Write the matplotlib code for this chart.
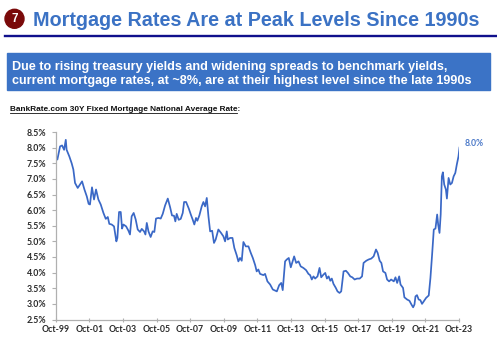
import matplotlib
matplotlib.use("Agg")
import matplotlib.pyplot as plt
from matplotlib.patches import Circle, Rectangle
from matplotlib.lines import Line2D

# 30Y fixed mortgage national average rate (%), sampled along the series
dates = [
    1999.75, 1999.85, 2000.01, 2000.13, 2000.25, 2000.35, 2000.40, 2000.56, 2000.70, 2000.80,
    2000.90, 2001.06, 2001.20, 2001.32, 2001.46, 2001.60, 2001.71, 2001.79, 2001.91, 2002.03,
    2002.15, 2002.29, 2002.43, 2002.59, 2002.73, 2002.85, 2002.94, 2003.08, 2003.22, 2003.36,
    2003.42, 2003.52, 2003.62, 2003.70, 2003.78, 2003.94, 2004.08, 2004.17, 2004.27, 2004.39,
    2004.51, 2004.63, 2004.77, 2004.87, 2005.01, 2005.09, 2005.17, 2005.27, 2005.40, 2005.52,
    2005.62, 2005.72, 2005.86, 2006.00, 2006.12, 2006.26, 2006.42, 2006.56, 2006.67, 2006.79,
    2006.87, 2006.95, 2007.07, 2007.19, 2007.31, 2007.39, 2007.51, 2007.67, 2007.79, 2007.90,
    2008.00, 2008.10, 2008.18, 2008.30, 2008.44, 2008.54, 2008.64, 2008.74, 2008.84, 2008.94,
    2009.06, 2009.17, 2009.27, 2009.43, 2009.59, 2009.73, 2009.83, 2009.93, 2009.99, 2010.13,
    2010.27, 2010.38, 2010.52, 2010.62, 2010.72, 2010.82, 2010.92, 2011.06, 2011.22, 2011.36,
    2011.48, 2011.62, 2011.71, 2011.81, 2011.91, 2012.11, 2012.21, 2012.35, 2012.51, 2012.67,
    2012.91, 2013.05, 2013.17, 2013.26, 2013.40, 2013.50, 2013.62, 2013.74, 2013.86, 2013.94,
    2014.06, 2014.20, 2014.33, 2014.49, 2014.65, 2014.79, 2014.89, 2014.99, 2015.09, 2015.19,
    2015.33, 2015.45, 2015.55, 2015.69, 2015.79, 2015.89, 2015.99, 2016.09, 2016.18, 2016.28,
    2016.42, 2016.52, 2016.64, 2016.74, 2016.88, 2017.02, 2017.14, 2017.28, 2017.40, 2017.54,
    2017.68, 2017.84, 2017.98, 2018.07, 2018.23, 2018.37, 2018.53, 2018.67, 2018.81, 2018.91,
    2019.03, 2019.13, 2019.23, 2019.37, 2019.47, 2019.59, 2019.71, 2019.87, 2019.97, 2020.07,
    2020.19, 2020.27, 2020.42, 2020.50, 2020.66, 2020.80, 2020.92, 2021.02, 2021.10, 2021.16,
    2021.25, 2021.35, 2021.45, 2021.55, 2021.65, 2021.79, 2021.95, 2022.05, 2022.15, 2022.25,
    2022.35, 2022.45, 2022.51, 2022.59, 2022.66, 2022.73, 2022.79, 2022.87, 2022.97, 2023.03,
    2023.13, 2023.23, 2023.33, 2023.43, 2023.53, 2023.62, 2023.72, 2023.78,
]
rates = [
    7.67, 7.62, 8.04, 8.07, 7.93, 8.25, 7.93, 7.72, 7.50, 7.30,
    6.87, 6.71, 6.82, 6.92, 6.66, 6.44, 6.20, 6.18, 6.73, 6.34,
    6.66, 6.34, 6.18, 5.91, 5.72, 5.78, 5.56, 5.54, 5.48, 5.00,
    5.11, 5.94, 5.94, 5.41, 5.54, 5.48, 5.34, 5.22, 5.80, 5.91,
    5.70, 5.38, 5.30, 5.40, 5.32, 5.22, 5.59, 5.32, 5.14, 5.32,
    5.30, 5.73, 5.75, 5.73, 5.88, 6.15, 6.37, 6.09, 5.83, 5.82,
    5.64, 5.88, 5.69, 5.72, 5.91, 6.26, 6.26, 6.05, 5.86, 5.70,
    5.54, 5.75, 5.66, 5.83, 6.12, 6.26, 6.12, 6.39, 5.80, 5.32,
    5.34, 4.95, 5.06, 5.38, 5.27, 5.16, 5.00, 5.32, 5.06, 5.11,
    5.11, 4.79, 4.56, 4.36, 4.47, 4.38, 4.98, 4.84, 4.84, 4.63,
    4.47, 4.24, 4.04, 4.10, 3.96, 3.92, 3.96, 3.72, 3.62, 3.46,
    3.40, 3.60, 3.67, 3.44, 4.36, 4.42, 4.47, 4.17, 4.38, 4.52,
    4.31, 4.36, 4.20, 4.15, 4.08, 3.96, 3.92, 3.78, 3.88, 3.81,
    3.88, 4.15, 3.85, 3.94, 3.99, 3.81, 3.88, 3.74, 3.81, 3.64,
    3.51, 3.40, 3.35, 3.40, 4.04, 4.06, 3.99, 3.88, 3.85, 3.78,
    3.81, 3.81, 3.88, 4.31, 4.38, 4.42, 4.45, 4.52, 4.74, 4.63,
    4.38, 4.31, 4.04, 3.99, 3.78, 3.72, 3.78, 3.72, 3.85, 3.67,
    3.88, 3.62, 3.51, 3.21, 3.14, 3.10, 2.98, 2.89, 2.98, 3.24,
    3.28, 3.14, 3.12, 3.00, 3.08, 3.19, 3.27, 3.83, 4.58, 5.38,
    5.41, 5.86, 5.54, 5.27, 5.86, 7.08, 7.21, 6.82, 6.66, 6.37,
    7.03, 6.82, 6.87, 7.08, 7.19, 7.46, 7.72, 8.00,
]

tick_positions = [1999.75 + 2 * i for i in range(13)]
tick_labels = ["Oct-99", "Oct-01", "Oct-03", "Oct-05", "Oct-07", "Oct-09", "Oct-11",
               "Oct-13", "Oct-15", "Oct-17", "Oct-19", "Oct-21", "Oct-23"]
y_ticks = [2.5, 3.0, 3.5, 4.0, 4.5, 5.0, 5.5, 6.0, 6.5, 7.0, 7.5, 8.0, 8.5]

title = "Mortgage Rates Are at Peak Levels Since 1990s"
banner_lines = ["Due to rising treasury yields and widening spreads to benchmark yields,",
                "current mortgage rates, at ~8%, are at their highest level since the late 1990s"]
chart_caption = "BankRate.com 30Y Fixed Mortgage National Average Rate:"

W, H = 497, 342
fig = plt.figure(figsize=(W / 100, H / 100), dpi=100)
fig.patch.set_facecolor("white")

BLUE = "#3b72c4"
LINE_BLUE = "#3a68c6"
FONT = ["Liberation Sans", "DejaVu Sans"]
TICK_FONT = ["Lato", "DejaVu Sans"]

renderer = fig.canvas.get_renderer()


def fit_width(txt, width_px):
    """Scale a text's font size so that it spans the given width in pixels."""
    w = txt.get_window_extent(renderer=renderer).width
    txt.set_fontsize(txt.get_fontsize() * width_px / w)


# Header: numbered badge, title, underline rule
overlay = fig.add_axes([0, 0, 1, 1])
overlay.set_xlim(0, W)
overlay.set_ylim(H, 0)
overlay.axis("off")
overlay.add_patch(Circle((14.5, 18.8), 9.5, color="#7a0a0a", zorder=2))
overlay.text(14.5, 19.2, "7", color="white", fontsize=8.5, fontweight="bold",
             ha="center", va="center", family=FONT, zorder=3)
t = overlay.text(33.3, 26, title, color=BLUE, fontsize=12.6, fontweight="bold",
                 ha="left", va="baseline", family=FONT)
fit_width(t, 447)
overlay.add_line(Line2D([5, 496], [35.5, 35.5], color="#10108c", lw=1.7))

# Banner box with the key takeaway
overlay.add_patch(Rectangle((6.7, 53.3), 483.3, 36.7, color="#3b73c6", zorder=1))
b1 = overlay.text(12.5, 70, banner_lines[0], color="white", fontsize=9.8, fontweight="bold",
                  ha="left", va="baseline", family=FONT, zorder=2)
b2 = overlay.text(12.5, 84.3, banner_lines[1], color="white", fontsize=9.8, fontweight="bold",
                  ha="left", va="baseline", family=FONT, zorder=2)
fit_width(b2, 458)
b1.set_fontsize(b2.get_fontsize())

# Chart caption (underlined)
cap = overlay.text(10, 111, chart_caption, color="#111111", fontsize=5.6, fontweight="bold",
                   ha="left", va="baseline", family=FONT)
fit_width(cap, 227)
overlay.add_line(Line2D([10, 237], [112.6, 112.6], color="#111111", lw=0.6))

# Line chart
ax = fig.add_axes([55.7 / W, 1 - 319.5 / H, (459 - 55.7) / W, (319.5 - 132) / H])
ax.plot(dates, rates, color=LINE_BLUE, lw=1.25, solid_joinstyle="round")
ax.set_xlim(tick_positions[0], tick_positions[-1])
ax.set_ylim(y_ticks[0], y_ticks[-1])
ax.set_xticks(tick_positions)
ax.set_xticklabels(tick_labels)
ax.set_yticks(y_ticks)
ax.set_yticklabels([f"{v:.1f}%" for v in y_ticks])
for lab in ax.get_xticklabels() + ax.get_yticklabels():
    lab.set_fontsize(6.3)
    lab.set_fontweight("bold")
    lab.set_color("#2a2a2a")
    lab.set_family(TICK_FONT)
for side in ("top", "right"):
    ax.spines[side].set_visible(False)
for side in ("left", "bottom"):
    ax.spines[side].set_color("#b0b0b0")
    ax.spines[side].set_linewidth(0.9)
ax.tick_params(axis="y", direction="out", length=3.2, width=0.8, color="#b0b0b0", pad=3.6)
ax.tick_params(axis="x", direction="inout", length=3.5, width=0.8, color="#b0b0b0", pad=2.5)
ax.set_facecolor("white")

# End-of-series value label
ax.annotate(f"{rates[-1]:.1f}%", xy=(dates[-1], rates[-1]), xytext=(4, 2.7),
            textcoords="offset points", color="#4a78c8", fontsize=6.2, fontweight="bold",
            family=TICK_FONT, ha="left", va="center", annotation_clip=False)

fig.savefig("out.png", dpi=100, facecolor="white")
